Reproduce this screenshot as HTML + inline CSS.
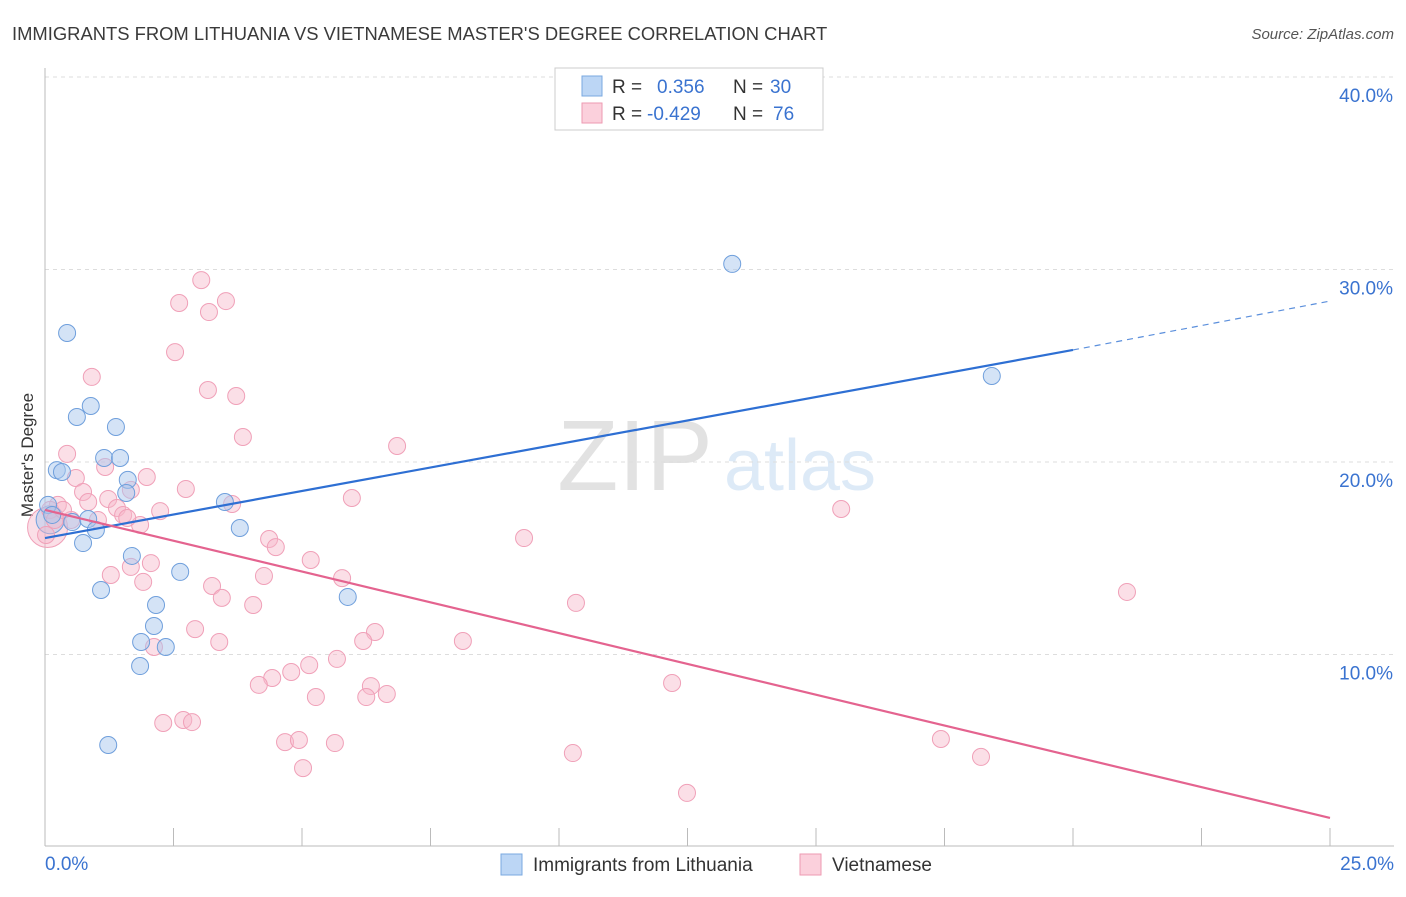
<!DOCTYPE html>
<html><head><meta charset="utf-8"><style>
body{margin:0;background:#fff;font-family:"Liberation Sans",sans-serif;}
svg text{font-family:"Liberation Sans",sans-serif;}
</style></head><body>
<svg id="chart" width="1406" height="892" xmlns="http://www.w3.org/2000/svg">
<text x="12" y="40" font-size="18.4" fill="#3a3a3a">IMMIGRANTS FROM LITHUANIA VS VIETNAMESE MASTER'S DEGREE CORRELATION CHART</text>
<text x="1394" y="39" font-size="15" fill="#555" font-style="italic" text-anchor="end">Source: ZipAtlas.com</text>
<text x="33" y="455" font-size="17" fill="#333" transform="rotate(-90 33 455)" text-anchor="middle">Master's Degree</text>
<g opacity="0.18">
<text x="635" y="490" font-size="100" fill="#666" font-family="Liberation Serif" text-anchor="middle">ZIP</text>
<text x="800" y="490" font-size="72" fill="#4a8fd8" text-anchor="middle">atlas</text>
</g>
<g id="grid"></g><g id="axes"></g><g id="pts"></g><g id="lines"></g>
<g>
<rect x="555" y="68" width="268" height="62" fill="#fff" stroke="#ccc"/>
<rect x="582" y="76" width="20" height="20" fill="#bcd6f5" stroke="#7aa8e0"/>
<rect x="582" y="103" width="20" height="20" fill="#fbd0dc" stroke="#ee9ab2"/>
<text x="612" y="93" font-size="19" fill="#333">R = <tspan fill="#3a73d0" x="657">0.356</tspan><tspan fill="#333" x="733">N =</tspan><tspan fill="#3a73d0" x="770">30</tspan></text>
<text x="612" y="120" font-size="19" fill="#333">R = <tspan fill="#3a73d0" x="647">-0.429</tspan><tspan fill="#333" x="733">N =</tspan><tspan fill="#3a73d0" x="773">76</tspan></text>
</g>
<g>
<rect x="501" y="854" width="21" height="21" fill="#bcd6f5" stroke="#7aa8e0"/>
<text x="533" y="871" font-size="19" fill="#333">Immigrants from Lithuania</text>
<rect x="800" y="854" width="21" height="21" fill="#fbd0dc" stroke="#ee9ab2"/>
<text x="832" y="871" font-size="19" fill="#333">Vietnamese</text>
</g>
</svg>
<script>
const xTicks=[0,2.5,5,7.5,10,12.5,15,17.5,20,22.5,25];
const yTicks=[10,20,30,40];
const yTickLabels=["10.0%","20.0%","30.0%","40.0%"];
const blueX=[0.43,0.89,0.62,1.38,1.15,1.46,0.23,0.33,1.61,1.58,0.06,0.14,0.53,0.84,0.99,0.74,3.79,3.50,1.69,2.63,1.09,2.16,2.12,1.87,2.35,1.85,5.89,1.23,13.37,18.42];
const blueY=[26.70,22.91,22.34,21.82,20.21,20.21,19.58,19.48,19.07,18.39,17.77,17.25,16.88,17.04,16.47,15.79,16.57,17.92,15.12,14.29,13.35,12.57,11.48,10.65,10.39,9.40,12.99,5.30,30.29,24.47];
const pinkX=[3.04,3.52,2.61,3.19,2.53,0.91,3.17,3.72,3.85,6.85,0.43,1.17,1.98,0.60,2.74,0.74,0.25,0.84,1.23,1.40,1.67,5.97,3.64,2.24,1.52,1.03,1.85,0.51,15.49,4.36,4.49,9.32,2.06,1.67,1.28,5.17,4.26,5.78,1.91,3.25,3.44,4.05,10.33,21.05,2.92,6.42,6.19,3.39,8.13,2.12,5.68,5.14,4.79,4.42,4.16,6.34,6.25,6.65,5.27,12.20,2.30,2.69,2.86,4.67,4.94,5.64,10.27,17.43,18.21,5.02,12.49,0.10,0.19,0.02,0.35,1.60];
const pinkY=[29.45,28.36,28.26,27.79,25.71,24.42,23.74,23.43,21.30,20.83,20.42,19.74,19.22,19.17,18.60,18.44,17.77,17.92,18.08,17.61,18.55,18.13,17.82,17.45,17.25,16.99,16.73,16.99,17.56,16.00,15.58,16.05,14.75,14.55,14.13,14.91,14.08,13.97,13.77,13.56,12.94,12.57,12.68,13.25,11.32,11.17,10.70,10.65,10.70,10.39,9.77,9.45,9.09,8.78,8.42,8.36,7.79,7.95,7.79,8.52,6.44,6.60,6.49,5.45,5.56,5.40,4.88,5.61,4.68,4.10,2.81,17.51,16.99,16.21,17.51,17.09];
const blueTrend=[[0,16.05],[20,25.82],[25,28.36]];
const pinkTrend=[[0,17.51],[25,1.51]];
const X=v=>45+v/25*1285, Y=v=>847-v*19.25;
const NS="http://www.w3.org/2000/svg";
function mk(p,t,a){const e=document.createElementNS(NS,t);for(const k in a)e.setAttribute(k,a[k]);p.appendChild(e);return e;}
const grid=document.getElementById('grid'),axes=document.getElementById('axes'),pts=document.getElementById('pts'),lines=document.getElementById('lines');
yTicks.forEach((v,i)=>{
 const l=mk(grid,'line',{x1:45,x2:1394,y1:Y(v),y2:Y(v),stroke:'#ddd','stroke-dasharray':'4,4'});
 
 
 const t=mk(axes,'text',{x:1393,y:Y(v)+25,'font-size':19,fill:'#3a73d0','text-anchor':'end'});t.textContent=yTickLabels[i];
 
 
});
mk(axes,'line',{x1:45,x2:45,y1:68,y2:846,stroke:'#bbb'});
mk(axes,'line',{x1:45,x2:1394,y1:846,y2:846,stroke:'#bbb'});
xTicks.forEach(v=>{const t=mk(axes,'line',{x1:X(v),x2:X(v),y1:828,y2:846,stroke:'#bbb'});
 
 });
let t0=mk(axes,'text',{x:45,y:870,'font-size':19,fill:'#3a73d0'});t0.textContent='0.0%';


let t1=mk(axes,'text',{x:1394,y:870,'font-size':19,fill:'#3a73d0','text-anchor':'end'});t1.textContent='25.0%';


let bb=mk(pts,'circle',{cx:X(0.05),cy:Y(16.6),r:20,fill:'#f7b7c9','fill-opacity':0.45,stroke:'#f0a0b8'});


let bb2=mk(pts,'circle',{cx:X(0.1),cy:Y(17.0),r:14,fill:'#a9c7ee','fill-opacity':0.45,stroke:'#6f9fdc'});


pinkX.forEach((x,i)=>{const c=mk(pts,'circle',{cx:X(x),cy:Y(pinkY[i]),r:8.5,fill:'#f7b7c9','fill-opacity':0.45,stroke:'#f0a0b8','stroke-width':1});
 
 });
blueX.forEach((x,i)=>{const c=mk(pts,'circle',{cx:X(x),cy:Y(blueY[i]),r:8.5,fill:'#a9c7ee','fill-opacity':0.5,stroke:'#6f9fdc','stroke-width':1});
 
 });
let bl=mk(lines,'line',{x1:X(blueTrend[0][0]),y1:Y(blueTrend[0][1]),x2:X(blueTrend[1][0]),y2:Y(blueTrend[1][1]),stroke:'#2e6fd3','stroke-width':2.2});


let bd=mk(lines,'line',{x1:X(blueTrend[1][0]),y1:Y(blueTrend[1][1]),x2:X(blueTrend[2][0]),y2:Y(blueTrend[2][1]),stroke:'#5b8fdc','stroke-width':1.2,'stroke-dasharray':'6,5'});


let pl=mk(lines,'line',{x1:X(pinkTrend[0][0]),y1:Y(pinkTrend[0][1]),x2:X(pinkTrend[1][0]),y2:Y(pinkTrend[1][1]),stroke:'#e4638f','stroke-width':2.2});


</script>
</body></html>
